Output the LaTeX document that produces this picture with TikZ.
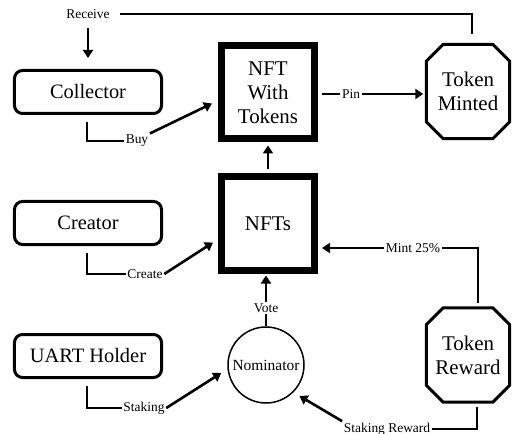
\documentclass[tikz,border=0pt]{standalone}
\usepackage{fontspec}
\setmainfont{Liberation Serif}
\usetikzlibrary{arrows.meta, calc}

\tikzset{
  actor/.style={draw, line width=3bp, rounded corners=8bp, minimum width=147bp, minimum height=43bp, font=\fontsize{20.5}{22}\selectfont},
  bigbox/.style={draw, line width=7bp, minimum width=93bp, minimum height=93bp, align=center, font=\fontsize{21}{24}\selectfont},
  octo/.style={minimum width=83bp, minimum height=94bp, align=center, inner sep=0pt, font=\fontsize{21}{24}\selectfont},
  nomcircle/.style={draw, circle, line width=1.5bp, minimum size=76bp, inner sep=0pt, font=\fontsize{15.5}{17}\selectfont},
  lbl/.style={inner sep=1.5bp, font=\fontsize{13.5}{15}\selectfont},
  line/.style={line width=2.6bp},
  arr/.style={line width=2.6bp, -{Triangle[length=8bp, width=10bp]}}
}

% octagon round a node
\newcommand{\octoframe}[1]{%
  \draw[line width=3bp] ([xshift=17bp]#1.north west) -- ([xshift=-17bp]#1.north east)
    -- ([yshift=-17bp]#1.north east) -- ([yshift=17bp]#1.south east)
    -- ([xshift=-17bp]#1.south east) -- ([xshift=17bp]#1.south west)
    -- ([yshift=17bp]#1.south west) -- ([yshift=-17bp]#1.north west) -- cycle;}

\begin{document}
\begin{tikzpicture}[x={(1bp,0)}, y={(0,-1bp)}]
    \useasboundingbox (0,0) rectangle (513,434);

    % Boxes
    \node[actor] (collector) at (88,92) {Collector};
    \node[actor] (creator) at (88,223) {Creator};
    \node[actor] (uart) at (88,356) {UART Holder};
    \node[bigbox] (nftTok) at (268,92.5) {NFT\\With\\Tokens};
    \node[bigbox] (nfts) at (268,223.5) {NFTs};
    \node[octo] (tokMinted) at (468,91.5) {Token\\Minted};
    \node[octo] (tokReward) at (468,355) {Token\\Reward};
    \octoframe{tokMinted}
    \octoframe{tokReward}
    \node[nomcircle] (nominator) at (266,365) {Nominator};

    % Labels
    \node[lbl] (receive) at (88,14) {Receive};
    \node[lbl] (buy) at (137,141) {Buy};
    \node[lbl] (create) at (145,274) {Create};
    \node[lbl] (staking) at (144,408) {Staking};
    \node[lbl] (pin) at (351,94) {Pin};
    \node[lbl] (mint) at (413,248) {Mint 25\%};
    \node[lbl] (vote) at (266,308) {Vote};
    \node[lbl] (stakRew) at (387,429) {Staking Reward};

    % Receive
    \draw[line] ([xshift=9bp]receive.east) -| ([xshift=4bp,yshift=10bp]tokMinted.north);
    \draw[arr, shorten <=8bp, shorten >=11bp] (receive) -- (collector);

    % Buy, Create, Staking
    \draw[line] ([xshift=-1bp,yshift=-7bp]collector.south) |- (buy.west);
    \draw[arr] (buy.north east) -- ([xshift=-6bp,yshift=-11bp]nftTok.west);
    \draw[line] ([xshift=-1bp,yshift=-7bp]creator.south) |- (create.west);
    \draw[arr] (create.east) -- ([xshift=-5bp,yshift=-19bp]nfts.west);
    \draw[line] ([xshift=-1bp,yshift=-7bp]uart.south) |- (staking.west);
    \draw[arr] (staking.east) -- ([xshift=-6bp,yshift=-8bp]nominator.west);

    % Pin and up
    \draw[line] ([xshift=4bp]nftTok.east |- pin) -- (pin.west);
    \draw[arr] (pin.east) -- ([xshift=-3bp]tokMinted.west |- pin);
    \draw[arr, shorten <=4bp, shorten >=3bp] (nfts.north) -- (nftTok.south);

    % Mint, Vote, Staking Reward
    \draw[line] ([xshift=10bp,yshift=5bp]tokReward.north) |- (mint.east);
    \draw[arr] (mint.west) -- ([xshift=4bp]nfts.east |- mint);
    \draw[line] (nominator.north) -- (vote.south);
    \draw[arr] (vote.north) -- ([yshift=-2bp]nfts.south -| vote);
    \draw[line] ([xshift=9bp,yshift=-5bp]tokReward.south) |- (stakRew.east);
    \draw[arr, shorten >=7bp] (stakRew.north west) -- (nominator.-45);
\end{tikzpicture}
\end{document}
